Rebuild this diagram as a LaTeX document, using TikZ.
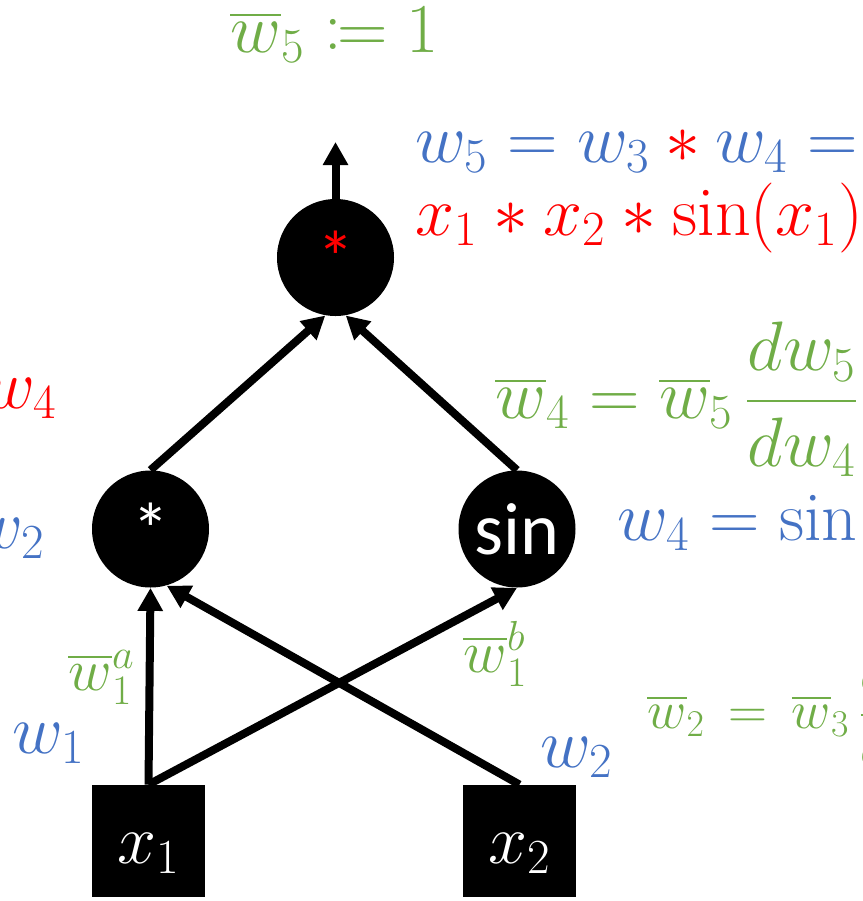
\RequirePackage{fix-cm}
\documentclass[tikz,border=0pt]{standalone}
\usepackage{amsmath}
\usepackage{mathtools}
\usepackage{fontspec}
\newfontfamily\opfont{Carlito}
\usepackage{xcolor}
\usepackage{tikz}
\usetikzlibrary{arrows.meta}

\definecolor{fwdblue}{HTML}{4472C4}
\definecolor{bwdgreen}{HTML}{70AD47}
\definecolor{exprred}{HTML}{FF0000}

\begin{document}
\begin{tikzpicture}[
    x=0.5pt, y=-0.5pt,
    op/.style={circle, fill=black, minimum size=58.5pt, inner sep=0pt, text=white, font=\opfont\fontsize{37}{40}\selectfont},
    var/.style={rectangle, fill=black, minimum width=56.5pt, minimum height=56pt, inner sep=0pt, text height=22pt, text depth=0pt, text=white, font=\fontsize{35}{40}\selectfont},
    big/.style={anchor=base west, inner sep=0pt, font=\fontsize{35}{42}\selectfont},
    mid/.style={anchor=base west, inner sep=0pt, font=\fontsize{27}{32}\selectfont},
    small/.style={anchor=base west, inner sep=0pt, font=\fontsize{30}{36}\selectfont},
    arrow/.style={-{Triangle[length=11.5pt, width=12pt]}, line width=4pt},
]

\useasboundingbox (0,0) rectangle (863,901);
\clip (0,0) rectangle (863,901);

% graph
\node[op, text=exprred] (mul2) at (335.5,257.5) {*};
\node[op] (mul1) at (150.5,529) {*};
\node[op] (sin) at (517,529) {sin};
\node[var] (x1) at (148.5,841) {$x_1$};
\node[var] (x2) at (519.5,841) {$x_2$};
\coordinate (out) at (335.5,142);

\draw[arrow] (x1.north) -- (mul1.south);
\draw[arrow] (x1.north) -- (sin.south);
\draw[arrow] (x2.north) -- (mul1.-74);
\draw[arrow] (mul1.north) -- (mul2.-100);
\draw[arrow] (sin.north) -- (mul2.-80);
\draw[arrow] (mul2.north) -- (out);

% labels
\node[big, text=bwdgreen] (wbarfive) at (230,52) {$\overline{w}_5 \coloneqq 1$};
\node[big, text=fwdblue] (wfive) at (415,162) {$w_5 = w_3 \mathbin{\textcolor{exprred}{\ast}} w_4 =$};
\node[big, text=exprred] (wfiveexpr) at (415,235) {$x_1 \ast x_2 \ast \sin(x_1)$};
\node[big, anchor=base east, text=exprred] (wfourcut) at (57,408) {$w_4$};
\node[big, anchor=base east, text=fwdblue] (wtwocut) at (45,548) {$w_2$};
\node[big, text=bwdgreen] (wbarfour) at (495,418) {$\overline{w}_4 = \overline{w}_5\,\dfrac{dw_5}{dw_4}$};
\node[big, text=fwdblue] (wfour) at (617,540) {$w_4 = \sin($};
\node[small, text=bwdgreen] (wbaronea) at (68,690) {$\overline{w}_1^a$};
\node[big, text=fwdblue] (wone) at (12,753) {$w_1$};
\node[small, text=bwdgreen] (wbaroneb) at (463,672) {$\overline{w}_1^b$};
\node[big, text=fwdblue] (wtwo) at (540,767) {$w_2$};
\node[mid, text=bwdgreen] (wbartwo) at (647,728) {$\overline{w}_2 \,=\, \overline{w}_3\,\dfrac{dw_3}{dw_2}$};

\end{tikzpicture}
\end{document}
